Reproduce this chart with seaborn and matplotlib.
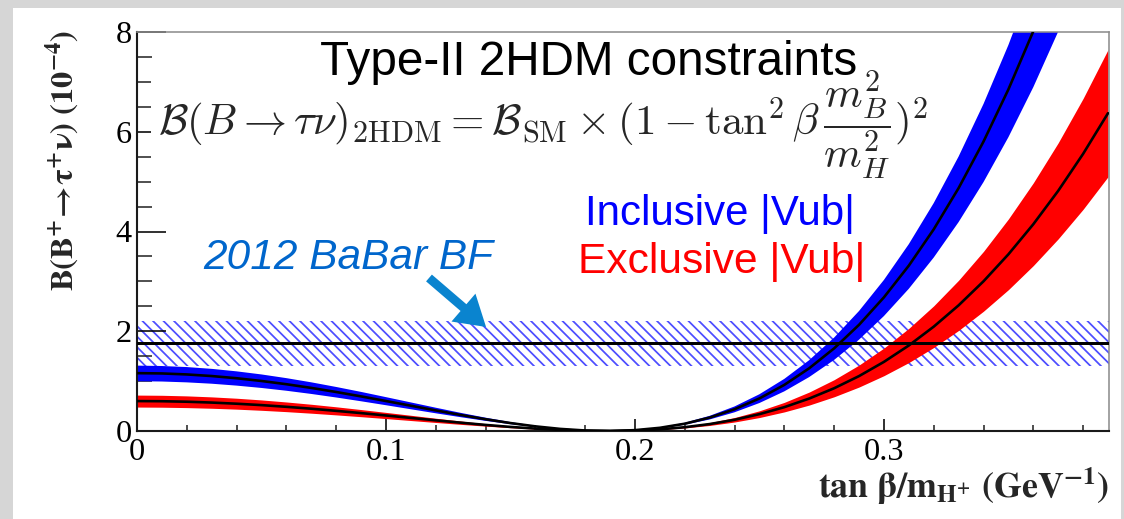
import numpy as np
import pandas as pd
import seaborn as sns
import matplotlib
matplotlib.use("Agg")
import matplotlib.pyplot as plt
from matplotlib.patches import Rectangle
from matplotlib.ticker import FixedLocator, MultipleLocator

# tan(beta)/m_H+ grid (GeV^-1)
tanb_over_mH = [0.00, 0.01, 0.02, 0.03, 0.04, 0.05, 0.06, 0.07, 0.08, 0.09,
                0.10, 0.11, 0.12, 0.13, 0.14, 0.15, 0.16, 0.17, 0.18, 0.19,
                0.20, 0.21, 0.22, 0.23, 0.24, 0.25, 0.26, 0.27, 0.28, 0.29,
                0.30, 0.31, 0.32, 0.33, 0.34, 0.35, 0.36, 0.37, 0.38, 0.39]

# B(B+ -> tau+ nu) in units of 1e-4, inclusive |Vub|
incl_central = [1.160, 1.154, 1.134, 1.102, 1.058, 1.003, 0.938, 0.864, 0.782, 0.694,
                0.601, 0.507, 0.413, 0.322, 0.236, 0.159, 0.093, 0.042, 0.010, 0.000,
                0.017, 0.064, 0.146, 0.269, 0.436, 0.653, 0.925, 1.258, 1.657, 2.129,
                2.680, 3.316, 4.044, 4.871, 5.804, 6.850, 8.016, 9.311, 10.743, 12.319]
incl_high = [1.311, 1.303, 1.282, 1.246, 1.196, 1.134, 1.060, 0.976, 0.883, 0.784,
             0.679, 0.573, 0.467, 0.364, 0.267, 0.179, 0.105, 0.048, 0.011, 0.000,
             0.019, 0.072, 0.165, 0.304, 0.492, 0.737, 1.045, 1.421, 1.873, 2.406,
             3.029, 3.747, 4.570, 5.504, 6.558, 7.740, 9.058, 10.522, 12.139, 13.920]
incl_low = [0.998, 0.992, 0.975, 0.948, 0.910, 0.863, 0.807, 0.743, 0.672, 0.596,
            0.517, 0.436, 0.355, 0.277, 0.203, 0.137, 0.080, 0.036, 0.009, 0.000,
            0.014, 0.055, 0.126, 0.231, 0.375, 0.561, 0.795, 1.082, 1.425, 1.831,
            2.305, 2.852, 3.478, 4.189, 4.991, 5.891, 6.894, 8.008, 9.239, 10.594]

# exclusive |Vub|
excl_central = [0.600, 0.597, 0.587, 0.570, 0.547, 0.519, 0.485, 0.447, 0.404, 0.359,
                0.311, 0.262, 0.214, 0.167, 0.122, 0.082, 0.048, 0.022, 0.005, 0.000,
                0.009, 0.033, 0.076, 0.139, 0.225, 0.338, 0.478, 0.651, 0.857, 1.101,
                1.386, 1.715, 2.092, 2.520, 3.002, 3.543, 4.146, 4.816, 5.557, 6.372]
excl_high = [0.720, 0.716, 0.704, 0.684, 0.657, 0.623, 0.582, 0.536, 0.485, 0.430,
             0.373, 0.315, 0.256, 0.200, 0.147, 0.099, 0.058, 0.026, 0.006, 0.000,
             0.010, 0.040, 0.091, 0.167, 0.270, 0.405, 0.574, 0.781, 1.029, 1.322,
             1.663, 2.058, 2.510, 3.023, 3.602, 4.252, 4.976, 5.779, 6.668, 7.646]
excl_low = [0.480, 0.477, 0.469, 0.456, 0.438, 0.415, 0.388, 0.357, 0.323, 0.287,
            0.249, 0.210, 0.171, 0.133, 0.098, 0.066, 0.038, 0.017, 0.004, 0.000,
            0.007, 0.026, 0.061, 0.111, 0.180, 0.270, 0.383, 0.520, 0.686, 0.881,
            1.109, 1.372, 1.674, 2.016, 2.402, 2.834, 3.317, 3.853, 4.445, 5.098]

# 2012 BaBar measurement (1e-4)
babar_bf = 1.76
babar_band = [1.30, 2.21]

x_limits = [0.0, 0.3904]
y_limits = [0.0, 8.0]
x_ticks = [0.0, 0.1, 0.2, 0.3]
x_tick_labels = ["0", "0.1", "0.2", "0.3"]
y_ticks = [0, 2, 4, 6, 8]
y_tick_labels = ["0", "2", "4", "6", "8"]

df = pd.DataFrame({
    "x": tanb_over_mH,
    "incl": incl_central, "incl_hi": incl_high, "incl_lo": incl_low,
    "excl": excl_central, "excl_hi": excl_high, "excl_lo": excl_low,
})

sns.set_style("white")
plt.rcParams["font.family"] = ["Liberation Sans", "DejaVu Sans"]
plt.rcParams["mathtext.fontset"] = "stix"
plt.rcParams["hatch.linewidth"] = 1.0

DPI = 126
W, H = 1124, 519
fig = plt.figure(figsize=(W / DPI, H / DPI), dpi=DPI, facecolor="#d6d6d6")
fig.patches.append(Rectangle((13 / W, 0), 1108 / W, 511 / H, transform=fig.transFigure,
                             facecolor="white", edgecolor="none", zorder=-5))
ax = fig.add_axes([137 / W, 88 / H, 972 / W, 399 / H])
ax.set_zorder(1)
ax.set_facecolor("white")

# measurement band (hatched) and central value
ax.axhspan(babar_band[0], babar_band[1], facecolor="none", edgecolor="#4d4dff",
           hatch="\\\\\\\\", linewidth=0, zorder=1)

# theory bands
ax.fill_between(df["x"], df["excl_lo"], df["excl_hi"], color="#ff0000", linewidth=0, zorder=2)
ax.fill_between(df["x"], df["incl_lo"], df["incl_hi"], color="#0000ff", linewidth=0, zorder=2)
sns.lineplot(data=df, x="x", y="excl", color="black", linewidth=1.5, ax=ax, zorder=3)
sns.lineplot(data=df, x="x", y="incl", color="black", linewidth=1.5, ax=ax, zorder=3)
ax.axhline(babar_bf, color="black", linewidth=1.7, zorder=4)

ax.set_xlim(x_limits)
ax.set_ylim(y_limits)
ax.set_xlabel("")
ax.set_ylabel("")

ax.xaxis.set_major_locator(FixedLocator(x_ticks))
ax.set_xticklabels(x_tick_labels)
ax.xaxis.set_minor_locator(MultipleLocator(0.02))
ax.yaxis.set_major_locator(FixedLocator(y_ticks))
ax.set_yticklabels(y_tick_labels)
ax.yaxis.set_minor_locator(MultipleLocator(0.5))

ax.tick_params(axis="x", which="major", direction="in", length=6.9, width=0.9,
               bottom=True, top=False, pad=4, labelsize=18.5, colors="black")
ax.tick_params(axis="x", which="minor", direction="in", length=3.4, width=0.9,
               bottom=True, top=False)
ax.tick_params(axis="y", which="major", direction="in", length=16.6, width=0.9,
               left=True, right=False, pad=3, labelsize=18.5, colors="black")
ax.tick_params(axis="y", which="minor", direction="in", length=8.6, width=0.9,
               left=True, right=False)
for lab in ax.get_xticklabels() + ax.get_yticklabels():
    lab.set_fontfamily("Liberation Serif")

for side in ["left", "bottom"]:
    ax.spines[side].set_color("#1a1a1a")
    ax.spines[side].set_linewidth(1.2)
for side in ["top", "right"]:
    ax.spines[side].set_color("#8c8c8c")
    ax.spines[side].set_linewidth(0.9)
ax.set_axisbelow("line")

# axis titles
ax.text(-0.0772, 1.005, r"$\mathbf{B(B^{+}\!\rightarrow\!\tau^{+}\nu)\ (10^{-4})}$",
        transform=ax.transAxes, rotation=90, ha="center", va="top", fontsize=18.5)
ax.text(1.0, -0.168, r"$\mathbf{tan\ \beta/m_{H^{+}}\ (GeV^{-1})}$",
        transform=ax.transAxes, ha="right", va="baseline", fontsize=20.5)

# annotations
ax.text(0.188, 0.892, "Type-II 2HDM constraints", transform=ax.transAxes,
        ha="left", va="baseline", fontsize=27.2, color="black", zorder=7)
ax.text(0.0216, 0.764,
        r"$\mathcal{B}(B\rightarrow\tau\nu)_{\rm 2HDM}=\mathcal{B}_{\rm SM}\times(1-\tan^2\beta\,\dfrac{m_B^2}{m_H^2})^2$",
        transform=ax.transAxes, ha="left", va="center", fontsize=24.6, math_fontfamily="cm",
        bbox=dict(facecolor="white", edgecolor="none", pad=4), zorder=6)
ax.text(0.461, 0.516, "Inclusive |Vub|", transform=ax.transAxes,
        ha="left", va="baseline", fontsize=24, color="#0000ff", zorder=7)
ax.text(0.4537, 0.396, "Exclusive |Vub|", transform=ax.transAxes,
        ha="left", va="baseline", fontsize=24.3, color="#ff0000", zorder=7)
ax.text(0.0679, 0.406, "2012 BaBar BF", transform=ax.transAxes,
        ha="left", va="baseline", fontsize=24.2, color="#0066cc", style="italic", zorder=7)
ax.annotate("", xy=(0.3591, 0.2607), xytext=(0.3004, 0.3835),
            xycoords="axes fraction", textcoords="axes fraction",
            arrowprops=dict(width=5.1, headwidth=21, headlength=17, shrink=0,
                            facecolor="#0a84cf", edgecolor="none"), zorder=7)

fig.savefig("out.png", dpi=DPI, facecolor=fig.get_facecolor())
